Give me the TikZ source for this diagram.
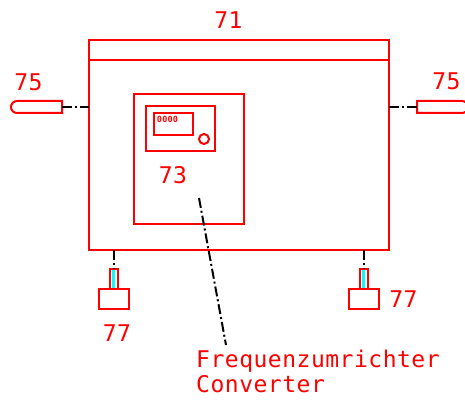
\documentclass[tikz,border=0pt]{standalone}
\usepackage{fontspec}
\setmonofont[LetterSpace=2.2]{DejaVu Sans Mono}
\usetikzlibrary{shapes.misc}
\definecolor{cadred}{RGB}{255,0,0}
\definecolor{cadcyan}{RGB}{0,255,255}
\tikzset{
  part/.style={draw=cadred,line width=2pt,inner sep=0pt,outer sep=0pt},
  lead/.style={draw=black,line width=2pt,dash pattern=on 10pt off 3pt on 2pt off 3pt},
  lbl/.style={text=cadred,inner sep=0pt,font=\ttfamily\fontsize{23}{27}\selectfont},
  stem/.style={part,fill=white,minimum width=8pt,minimum height=20pt},
  core/.style={fill=cadcyan,inner sep=0pt,minimum width=3pt,minimum height=18pt},
  base/.style={part,minimum width=30pt,minimum height=20pt},
  pin/.style={part,shape=rounded rectangle,minimum height=12pt}
}
\begin{document}
\begin{tikzpicture}[x=1pt,y=-1pt]
\useasboundingbox (0,0) rectangle (465,403);
\clip (0,0) rectangle (465,403);
\node[part,minimum width=300pt,minimum height=210pt] (main) at (239,145) {};
\draw[part] (main.north west |- 0,60) coordinate (da) -- (main.north east |- 0,60) coordinate (db);
\node[part,minimum width=110pt,minimum height=130pt] (inner) at (189,159) {};
\node[part,minimum width=69pt,minimum height=45pt] (panel) at (180.5,128.5) {};
\node[part,minimum width=39pt,minimum height=22pt] (display) at (173.5,124) {};
\node[part,circle,minimum size=10pt] (knob) at (204,139) {};
\node[text=cadred,inner sep=0pt,font=\ttfamily\bfseries\fontsize{8.5}{9}\selectfont] (digits) at (167.5,119) {0000};
\node[pin,rounded rectangle east arc=none,minimum width=51pt] (pinl) at (36.5,107) {};
\node[pin,rounded rectangle west arc=none,minimum width=51pt] (pinr) at (442.5,107) {};
\coordinate (ml) at (main.west |- pinl.east);
\coordinate (mr) at (main.east |- pinr.west);
\draw[lead] (pinl.east) -- (ml);
\draw[lead] (mr) -- (pinr.west);
\node[base] (basel) at (114,299) {};
\node[stem] (steml) at (114,279) {};
\node[core] (corel) at (113.5,279) {};
\node[base] (baser) at (364,299) {};
\node[stem] (stemr) at (364,279) {};
\node[core] (corer) at (363.5,279) {};
\coordinate (tl) at (steml.north |- main.south);
\coordinate (tr) at (stemr.north |- main.south);
\draw[lead] (tl) -- (steml.north);
\draw[lead] (tr) -- (stemr.north);
\coordinate (la) at (199,198);
\coordinate (lb) at (226,345);
\draw[lead] (la) -- (lb);
\node[lbl] (n71) at (228.5,20.5) {71};
\node[lbl] (n75a) at (28.5,82.5) {75};
\node[lbl] (n75b) at (446.5,81.5) {75};
\node[lbl] (n73) at (173,175.5) {73};
\node[lbl] (n77a) at (117,333) {77};
\node[lbl] (n77b) at (403.5,299) {77};
\node[lbl,anchor=base west] (t1) at (196,367) {Frequenzumrichter};
\node[lbl,anchor=base west] (t2) at (196,392) {Converter};
\end{tikzpicture}
\end{document}
